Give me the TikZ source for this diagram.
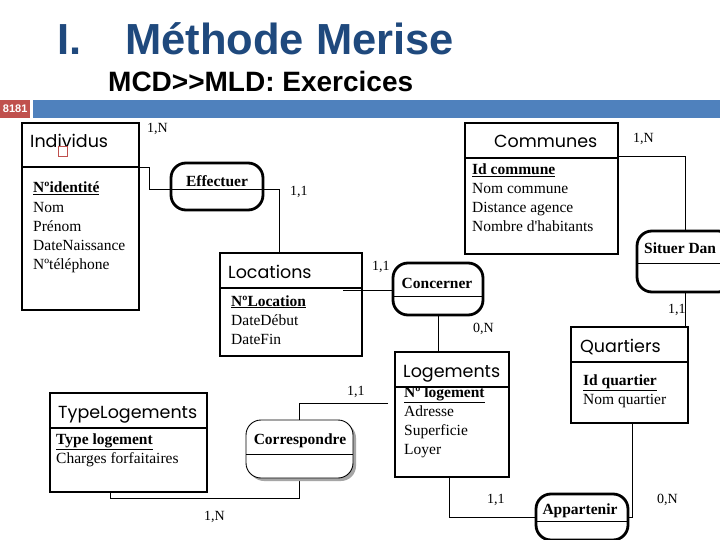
\documentclass[tikz,border=0pt]{standalone}
\usepackage{fontspec}
\setmainfont{Liberation Serif}[Ligatures=TeXOff]
\newfontfamily\hfont{Liberation Sans}
\newfontfamily\efont{Poppins}
\definecolor{titleblue}{RGB}{31,73,125}
\definecolor{barblue}{RGB}{79,129,189}
\definecolor{barred}{RGB}{192,80,77}
\begin{document}
\begin{tikzpicture}[x=1pt,y=-1pt,
  ent/.style={draw, line width=2.8pt, fill=white, inner sep=0pt, outer sep=0pt, anchor=north west},
  rel/.style={draw, line width=2.8pt, fill=white, rounded corners=15pt, inner sep=0pt, outer sep=0pt},
  div/.style={line width=2.6pt},
  conn/.style={line width=0.9pt},
  etitle/.style={anchor=base west, inner sep=0pt, font=\efont\fontsize{17.5}{20}\selectfont},
  attr/.style={anchor=base west, inner sep=0pt, font=\fontsize{15.5}{17}\selectfont},
  key/.style={attr, font=\fontsize{15.5}{17}\selectfont\bfseries},
  rtext/.style={anchor=base, inner sep=0pt, font=\fontsize{15.5}{17}\selectfont\bfseries},
  card/.style={anchor=base west, inner sep=0pt, font=\fontsize{14}{16}\selectfont}]
\useasboundingbox (0,0) rectangle (720,540);
\fill[white] (0,0) rectangle (720,540);
% header
\node[anchor=base west, inner sep=0pt, text=titleblue, font=\hfont\bfseries\fontsize{43.5}{48}\selectfont] (t1) at (57,55) {I.};
\node[anchor=base west, inner sep=0pt, text=titleblue, font=\hfont\bfseries\fontsize{43.5}{48}\selectfont] (t2) at (125,55) {Méthode Merise};
\node[anchor=base west, inner sep=0pt, font=\hfont\bfseries\fontsize{28}{30}\selectfont] (t3) at (108,92) {MCD>>MLD: Exercices};
\node[fill=barred, minimum width=30pt, minimum height=18pt, anchor=north west, inner sep=0pt, text=white, font=\hfont\bfseries\fontsize{11}{12}\selectfont] (num) at (0,100) {8181};
\node[fill=barblue, minimum width=687pt, minimum height=18pt, anchor=north west, inner sep=0pt] (bar) at (33,100) {};
% connectors
\coordinate (c1) at (128,167);
\coordinate (c2) at (343,290);
\coordinate (c3) at (592,156);
\coordinate (c4) at (388,403);
\coordinate (c5) at (110,480);
\draw[conn] (c1) -- (149,167) -- (149,189) -- (279,189) -- (279,253);
\draw[conn] (c2) -- (393,290);
\draw[conn] (438,315) -- (438,352);
\draw[conn] (c3) -- (685,156) -- (685,231);
\draw[conn] (685,292) -- (685,327);
\draw[conn] (c4) -- (299,403) -- (299,420);
\draw[conn] (299,478) -- (299,498) -- (c5 |- 0,498) -- (c5);
\draw[conn] (449,477) -- (449,517) -- (536,517);
\draw[conn] (628,517) -- (632,517) -- (632,423);
% Individus
\node[ent, minimum width=117pt, minimum height=187pt] (ind) at (22,123) {};
\draw[div] (22,167) -- (139,167);
\draw[conn] (c1) -- (139,167);
\node[etitle] (indt) at (30,148) {Individus};
\draw[barred, line width=1pt] (58,147) rectangle (67,157);
\node[key] (ind1) at (33,193) {\underline{Nºidentité}};
\node[attr] (ind2) at (33,212) {Nom};
\node[attr] (ind3) at (33,231) {Prénom};
\node[attr] (ind4) at (33,250) {DateNaissance};
\node[attr] (ind5) at (33,269) {Nºtéléphone};
% Effectuer
\node[rel, minimum width=92pt, minimum height=47pt] (eff) at (217,186.5) {};
\draw[conn] (171,189) -- (263,189);
\node[rtext] (efft) at (217,187) {Effectuer};
% Locations
\node[ent, minimum width=142pt, minimum height=103pt] (loc) at (220,253) {};
\draw[div] (220,288) -- (362,288);
\draw[conn] (c2) -- (362,290);
\node[etitle] (loct) at (228,278) {Locations};
\node[key] (loc1) at (231,306) {\underline{NºLocation}};
\node[attr] (loc2) at (231,325) {DateDébut};
\node[attr] (loc3) at (231,344) {DateFin};
% Communes
\node[ent, minimum width=153pt, minimum height=131pt] (com) at (465,123) {};
\draw[div] (465,158) -- (618,158);
\node[etitle] (comt) at (494,148) {Communes};
\node[key] (com1) at (472,175) {\underline{Id commune}};
\node[attr] (com2) at (472,194) {Nom commune};
\node[attr] (com3) at (472,213) {Distance agence};
\node[attr] (com4) at (472,232) {Nombre d'habitants};
% Concerner
\node[rel, minimum width=90pt, minimum height=52pt] (con) at (438,289) {};
\draw[conn] (393,296) -- (483,296);
\node[rtext] (cont) at (437,288) {Concerner};
% Situer Dan
\node[rel, minimum width=96pt, minimum height=61pt] (sit) at (685,261.5) {};
\draw[conn] (637,263) -- (733,263);
\node[rtext, anchor=base west] (sitt) at (644,253) {Situer Dan};
% Logements
\node[ent, minimum width=114pt, minimum height=125pt] (log) at (395,352) {};
\draw[div] (395,387) -- (509,387);
\node[etitle] (logt) at (403,377) {Logements};
\node[key] (log1) at (404,397) {\underline{Nº logement}};
\node[attr] (log2) at (404,416) {Adresse};
\node[attr] (log3) at (404,435) {Superficie};
\node[attr] (log4) at (404,454) {Loyer};
% Quartiers
\node[ent, minimum width=117pt, minimum height=96pt] (qua) at (571,327) {};
\draw[div] (571,362) -- (688,362);
\node[etitle] (quat) at (580,352) {Quartiers};
\node[key] (qua1) at (583,385) {\underline{Id quartier}};
\node[attr] (qua2) at (583,404) {Nom quartier};
% TypeLogements
\node[ent, minimum width=157pt, minimum height=99pt] (typ) at (50,393) {};
\draw[div] (50,428) -- (207,428);
\node[etitle] (typt) at (58,418) {TypeLogements};
\node[key] (typ1) at (56,444) {\underline{Type logement}};
\node[attr] (typ2) at (56,463) {Charges forfaitaires};
% Correspondre
\fill[gray!70, rounded corners=15pt] (249,423) rectangle (356,481);
\node[rel, line width=0.9pt, minimum width=107pt, minimum height=58pt] (cor) at (299.5,449) {};
\draw[conn] (246,454) -- (353,454);
\node[rtext] (cort) at (300,444) {Correspondre};
% Appartenir
\node[rel, minimum width=92pt, minimum height=46pt] (app) at (582,517) {};
\draw[conn] (536,521) -- (628,521);
\node[rtext] (appt) at (580,514) {Appartenir};
% cardinalities
\node[card] (k1) at (147,133) {1,N};
\node[card] (k2) at (290,196) {1,1};
\node[card] (k3) at (372,270) {1,1};
\node[card] (k4) at (633,143) {1,N};
\node[card] (k5) at (473,332) {0,N};
\node[card] (k6) at (668,313) {1,1};
\node[card] (k7) at (347,395) {1,1};
\node[card] (k8) at (204,520) {1,N};
\node[card] (k9) at (487,503) {1,1};
\node[card] (k10) at (657,503) {0,N};
\end{tikzpicture}
\end{document}
